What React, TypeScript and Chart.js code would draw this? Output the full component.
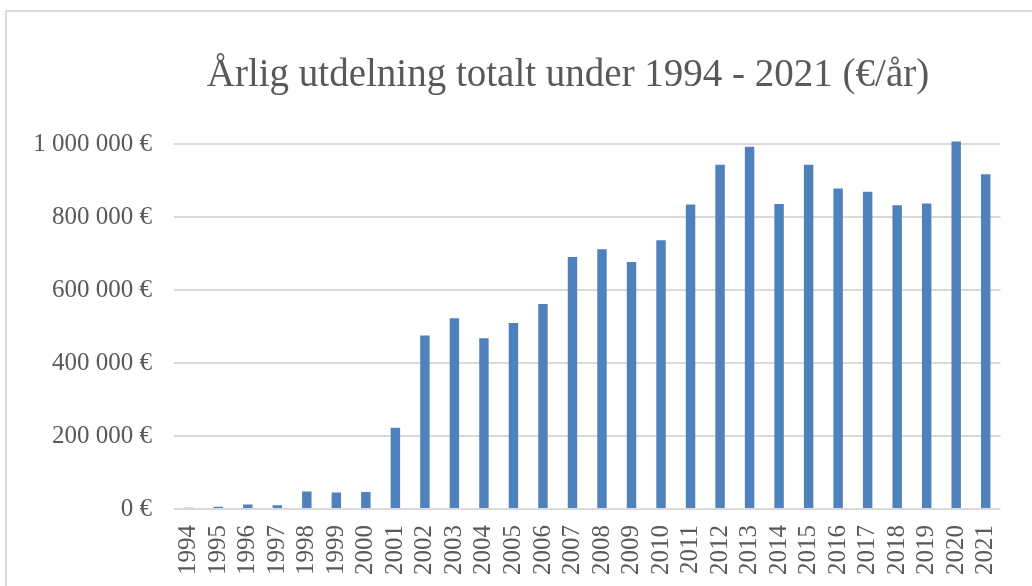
import React, { useEffect, useRef } from "react";
import { Chart, registerables } from "chart.js";

Chart.register(...registerables);

const years: string[] = [
  "1994", "1995", "1996", "1997", "1998", "1999", "2000", "2001", "2002", "2003",
  "2004", "2005", "2006", "2007", "2008", "2009", "2010", "2011", "2012", "2013",
  "2014", "2015", "2016", "2017", "2018", "2019", "2020", "2021",
];

const amounts: number[] = [
  3500, 6000, 12000, 10000, 48000, 45000, 46500, 223000, 476000, 523000,
  468000, 510000, 562000, 691000, 712000, 677000, 737000, 835000, 944000, 993000,
  836000, 944000, 879000, 870000, 833000, 838000, 1008000, 918000,
];

const yTicks: number[] = [0, 200000, 400000, 600000, 800000, 1000000];

const titleText = "Årlig utdelning totalt under 1994 - 2021 (€/år)";

const formatEuro = (v: number): string => {
  if (v === 0) return "0 €";
  const s = Math.round(v).toString();
  return s.replace(/\B(?=(\d{3})+(?!\d))/g, " ") + " €";
};

const FONT = "'Liberation Serif', 'Times New Roman', serif";

export default function App() {
  const canvasRef = useRef<HTMLCanvasElement | null>(null);

  useEffect(() => {
    const canvas = canvasRef.current;
    if (!canvas) return;

    const framePlugin = {
      id: "frameAndTitle",
      beforeDraw(chart: any) {
        const ctx = chart.ctx;
        ctx.save();
        ctx.fillStyle = "#ffffff";
        ctx.fillRect(0, 0, chart.width, chart.height);
        ctx.strokeStyle = "#D9D9D9";
        ctx.lineWidth = 2;
        ctx.beginPath();
        ctx.moveTo(6, chart.height + 2);
        ctx.lineTo(6, 11);
        ctx.lineTo(chart.width + 2, 11);
        ctx.stroke();
        ctx.fillStyle = "#595959";
        ctx.font = `39px ${FONT}`;
        ctx.textAlign = "center";
        ctx.textBaseline = "middle";
        ctx.fillText(titleText, 568, 76);
        ctx.restore();
      },
    };

    const chart = new Chart(canvas, {
      type: "bar",
      data: {
        labels: years,
        datasets: [
          {
            data: amounts,
            backgroundColor: "#4F81BD",
            borderWidth: 0,
            barPercentage: 0.32,
            categoryPercentage: 1,
          },
        ],
      },
      options: {
        responsive: false,
        animation: false,
        layout: { padding: { left: 0, right: 16, top: 137, bottom: 0 } },
        plugins: {
          legend: { display: false },
          title: { display: false },
          tooltip: { enabled: false },
        },
        scales: {
          x: {
            grid: { display: false, drawTicks: false },
            border: { display: false },
            ticks: {
              color: "#595959",
              font: { family: FONT, size: 25 },
              minRotation: 90,
              maxRotation: 90,
              autoSkip: false,
              padding: 16,
            },
            afterFit(scale: any) {
              scale.height = 77;
            },
          },
          y: {
            min: 0,
            max: 1020000,
            grid: { color: "#D9D9D9", lineWidth: 2, drawTicks: false },
            border: { display: false },
            ticks: {
              color: "#595959",
              font: { family: FONT, size: 25 },
              padding: 22,
              stepSize: 200000,
              callback: (v: any) => formatEuro(Number(v)),
            },
            afterBuildTicks(scale: any) {
              scale.ticks = yTicks.map((v) => ({ value: v }));
            },
            afterFit(scale: any) {
              scale.width = 174;
            },
          },
        },
      },
      plugins: [framePlugin],
    });

    return () => chart.destroy();
  }, []);

  return (
    <div style={{ position: "fixed", left: 0, top: 0, width: 1032, height: 586, overflow: "hidden", background: "#fff" }}>
      <canvas ref={canvasRef} width={1032} height={586} style={{ display: "block" }} />
    </div>
  );
}
